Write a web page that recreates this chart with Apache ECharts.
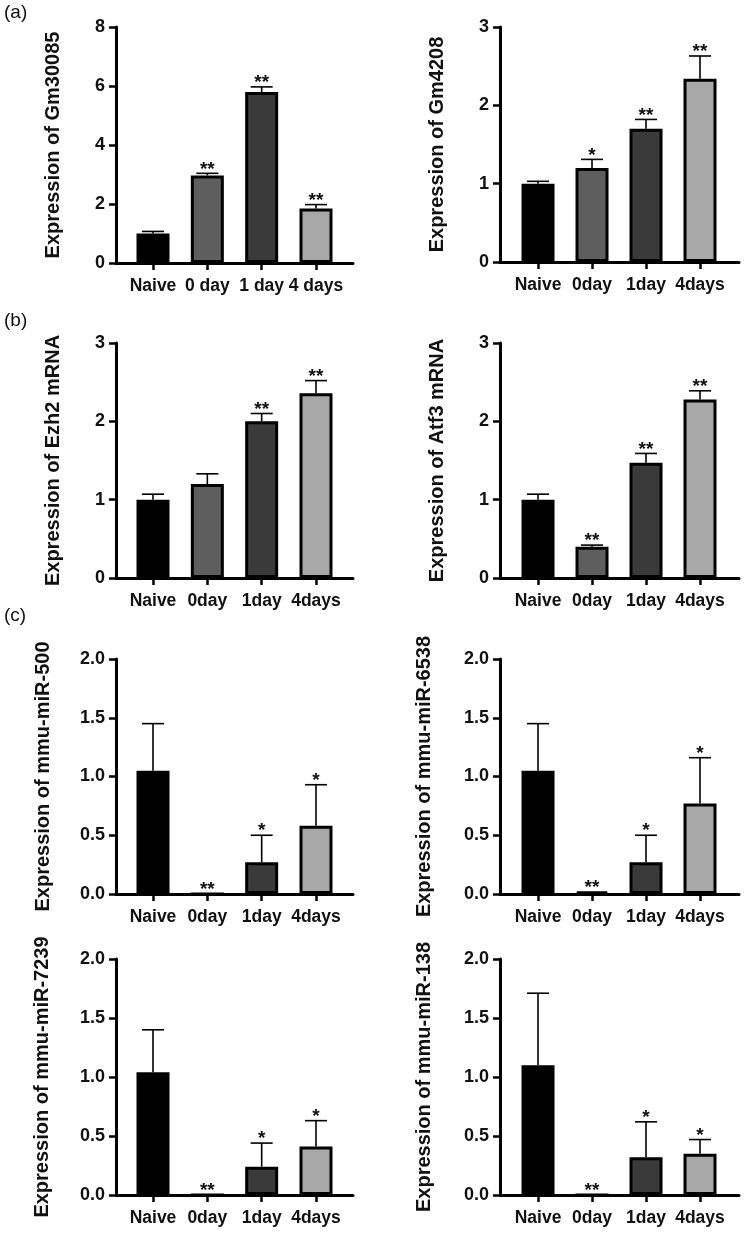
<!DOCTYPE html>
<html><head><meta charset="utf-8">
<script src="https://cdn.jsdelivr.net/npm/echarts@6/dist/echarts.min.js"></script>
<style>html,body{margin:0;padding:0;background:#fff}#c{width:744px;height:1234px}</style>
</head><body><div id="c"></div>
<script>
// ---------- data ----------
const catsSpaced = ['Naive', '0 day', '1 day', '4 days'];
const cats = ['Naive', '0day', '1day', '4days'];

const gm30085Mean = [1.0, 2.97, 5.8, 1.85];
const gm30085Err  = [0.07, 0.07, 0.17, 0.13];
const gm30085Sig  = ['', '**', '**', '**'];

const gm4208Mean = [1.0, 1.2, 1.7, 2.34];
const gm4208Err  = [0.03, 0.11, 0.12, 0.29];
const gm4208Sig  = ['', '*', '**', '**'];

const ezh2Mean = [1.0, 1.2, 2.0, 2.36];
const ezh2Err  = [0.07, 0.13, 0.1, 0.16];
const ezh2Sig  = ['', '', '**', '**'];

const atf3Mean = [1.0, 0.4, 1.47, 2.28];
const atf3Err  = [0.07, 0.02, 0.12, 0.11];
const atf3Sig  = ['', '**', '**', '**'];

const mir500Mean = [1.05, 0, 0.27, 0.58];
const mir500Err  = [0.4, 0, 0.23, 0.35];
const mir500Sig  = ['', '**', '*', '*'];

const mir6538Mean = [1.05, 0.02, 0.27, 0.77];
const mir6538Err  = [0.4, 0, 0.23, 0.39];
const mir6538Sig  = ['', '**', '*', '*'];

const mir7239Mean = [1.04, 0, 0.24, 0.41];
const mir7239Err  = [0.36, 0, 0.2, 0.22];
const mir7239Sig  = ['', '**', '*', '*'];

const mir138Mean = [1.1, 0, 0.32, 0.35];
const mir138Err  = [0.61, 0, 0.3, 0.12];
const mir138Sig  = ['', '**', '*', '*'];

const ticksGm30085 = [0, 2, 4, 6, 8];
const ticks3 = [0, 1, 2, 3];
const ticksMir = [0, 0.5, 1, 1.5, 2];

// ---------- styles / layout ----------
const FONT = '"Liberation Sans", Arial, Helvetica, sans-serif';
const barColors = ['#000000', '#5e5e5e', '#3a3a3a', '#a8a8a8'];

const panels = [
  {title: 'Expression of Gm30085', cats: catsSpaced, mean: gm30085Mean, err: gm30085Err, sig: gm30085Sig, ticks: ticksGm30085, dec: 0,
   left: 116, top: 27, width: 237, height: 236, xmin: -0.681, xmax: 3.681, gap: 53},
  {title: 'Expression of Gm4208', cats: cats, mean: gm4208Mean, err: gm4208Err, sig: gm4208Sig, ticks: ticks3, dec: 0,
   left: 500, top: 27, width: 239, height: 235, xmin: -0.704, xmax: 3.722, gap: 53},
  {title: 'Expression of Ezh2 mRNA', cats: cats, mean: ezh2Mean, err: ezh2Err, sig: ezh2Sig, ticks: ticks3, dec: 0,
   left: 116, top: 343, width: 237, height: 235, xmin: -0.681, xmax: 3.681, gap: 53},
  {title: 'Expression of Atf3 mRNA', cats: cats, mean: atf3Mean, err: atf3Err, sig: atf3Sig, ticks: ticks3, dec: 0,
   left: 500, top: 343, width: 239, height: 235, xmin: -0.704, xmax: 3.722, gap: 53},
  {title: 'Expression of mmu-miR-500', cats: cats, mean: mir500Mean, err: mir500Err, sig: mir500Sig, ticks: ticksMir, dec: 1,
   left: 116, top: 659, width: 237, height: 235, xmin: -0.681, xmax: 3.681, gap: 63},
  {title: 'Expression of mmu-miR-6538', cats: cats, mean: mir6538Mean, err: mir6538Err, sig: mir6538Sig, ticks: ticksMir, dec: 1,
   left: 500, top: 659, width: 239, height: 235, xmin: -0.704, xmax: 3.722, gap: 66},
  {title: 'Expression of mmu-miR-7239', cats: cats, mean: mir7239Mean, err: mir7239Err, sig: mir7239Sig, ticks: ticksMir, dec: 1,
   left: 116, top: 959, width: 237, height: 236, xmin: -0.681, xmax: 3.681, gap: 64},
  {title: 'Expression of mmu-miR-138', cats: cats, mean: mir138Mean, err: mir138Err, sig: mir138Sig, ticks: ticksMir, dec: 1,
   left: 500, top: 959, width: 239, height: 236, xmin: -0.704, xmax: 3.722, gap: 66}
];

const grids = [], xAxes = [], yAxes = [], series = [];
const axisLineStyle = {color: '#000', width: 3};
const tickStyle = {color: '#000', width: 2.5};

panels.forEach((p, k) => {
  grids.push({left: p.left, top: p.top, width: p.width, height: p.height, containLabel: false});
  const catIdx = p.cats.map((c, i) => i);
  xAxes.push({
    type: 'value', gridIndex: k, min: p.xmin, max: p.xmax,
    splitLine: {show: false},
    axisLine: {show: true, onZero: false, lineStyle: axisLineStyle},
    axisTick: {show: true, customValues: catIdx, length: 7, inside: false, lineStyle: tickStyle},
    axisLabel: {show: true, customValues: catIdx, margin: 14, color: '#111',
      fontFamily: FONT, fontWeight: 'bold', fontSize: 17.5,
      formatter: (v) => p.cats[Math.round(v)] || ''}
  });
  yAxes.push({
    type: 'value', gridIndex: k, min: p.ticks[0], max: p.ticks[p.ticks.length - 1],
    interval: p.ticks[1] - p.ticks[0],
    splitLine: {show: false},
    axisLine: {show: true, onZero: false, lineStyle: axisLineStyle},
    axisTick: {show: true, length: 7, inside: false, lineStyle: tickStyle},
    axisLabel: {margin: 11, color: '#111', fontFamily: FONT, fontWeight: 'bold', fontSize: 18,
      formatter: (v) => Number(v).toFixed(p.dec)},
    name: p.title, nameLocation: 'middle', nameGap: p.gap,
    nameTextStyle: {color: '#111', fontFamily: FONT, fontWeight: 'bold', fontSize: 20}
  });
  series.push({
    type: 'bar', xAxisIndex: k, yAxisIndex: k, barWidth: 33, silent: true,
    itemStyle: {borderColor: '#000', borderWidth: 3},
    data: p.mean.map((v, i) => ({value: [i, v], itemStyle: {color: barColors[i]}}))
  });
  series.push({
    type: 'custom', xAxisIndex: k, yAxisIndex: k, silent: true, clip: false, z: 5,
    data: p.mean.map((v, i) => [i, v, p.err[i]]),
    renderItem: (params, api) => {
      const i = api.value(0), m = api.value(1), e = api.value(2);
      const base = api.coord([i, m]);
      const top = api.coord([i, m + e]);
      const ch = [];
      if (e > 0) {
        ch.push({type: 'line', shape: {x1: base[0], y1: base[1], x2: top[0], y2: top[1]},
          style: {stroke: '#000', lineWidth: 1.6}});
        ch.push({type: 'line', shape: {x1: top[0] - 11, y1: top[1], x2: top[0] + 11, y2: top[1]},
          style: {stroke: '#000', lineWidth: 1.6}});
      }
      const s = p.sig[i];
      if (s) {
        ch.push({type: 'text', x: top[0], y: top[1] - 4,
          style: {text: s, fill: '#111', font: 'bold 19px ' + FONT, align: 'center', verticalAlign: 'middle'}});
      }
      return {type: 'group', children: ch};
    }
  });
});

const chart = echarts.init(document.getElementById('c'), null, {renderer: 'canvas'});
chart.setOption({
  animation: false,
  backgroundColor: '#fff',
  grid: grids, xAxis: xAxes, yAxis: yAxes, series: series,
  graphic: [
    {type: 'text', left: 4, top: 3, style: {text: '(a)', fill: '#111', font: '19px ' + FONT}},
    {type: 'text', left: 4, top: 311, style: {text: '(b)', fill: '#111', font: '19px ' + FONT}},
    {type: 'text', left: 4, top: 606, style: {text: '(c)', fill: '#111', font: '19px ' + FONT}}
  ]
});
</script>
</body></html>
